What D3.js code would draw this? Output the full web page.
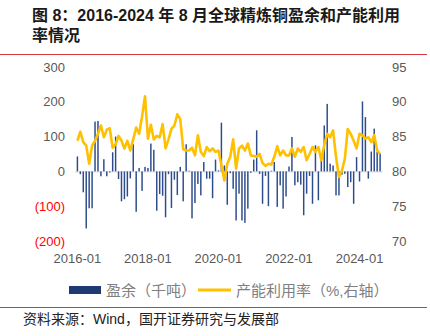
<!DOCTYPE html>
<html><head><meta charset="utf-8">
<script src="https://cdn.jsdelivr.net/npm/d3@7"></script>
<style>
html,body{margin:0;padding:0;background:#fff;}
svg{display:block;}
</style></head>
<body>
<svg id="c" width="430" height="336"></svg>
<script>
// Months 2016-01 .. 2024-08 (category axis)
const months = d3.utcMonths(new Date(Date.UTC(2016,0,1)), new Date(Date.UTC(2024,8,1))).map(d3.utcFormat("%Y-%m"));
const xTickLabels = ["2016-01","2018-01","2020-01","2022-01","2024-01"];
const leftTicks = [300,200,100,0,-100,-200];
const rightTicks = [95,90,85,80,75,70];
// 盈余（千吨）
const surplus = [43,-8,-60,-164,-106,-106,143,145,-14,35,-14,-3,55,100,-22,-86,-80,-72,-20,78,
  -116,10,-56,13,10,80,62,-113,-65,-70,-132,-8,-105,-24,-68,13,-86,78,2,-135,
  -91,-36,-69,27,-21,-21,-77,34,3,140,17,-96,-5,-50,-141,-64,-141,-148,-107,-4,
  34,118,-7,-93,-13,-100,2,27,-102,-40,-107,-72,14,99,-40,-31,-38,-126,-64,-13,
  -93,75,-83,32,132,194,22,17,-69,-69,-10,-7,-45,-31,-93,41,-29,201,156,-21,
  57,123,56,51];
// 产能利用率（%）
const utilization = [84.4,85.7,84.2,83.7,81.1,83.7,84.4,85.4,86.6,84.9,86.0,86.2,83.4,83.9,85.1,84.4,83.3,84.4,83.0,84.6,
  86.3,85.4,87.9,90.8,84.7,86.7,84.6,85.1,84.9,86.8,83.3,84.6,86.1,86.6,88.2,87.5,83.2,83.0,83.0,83.4,
  82.3,85.2,82.8,82.2,83.5,82.9,83.3,82.8,83.0,80.9,78.7,81.1,82.1,84.6,80.4,83.3,83.7,83.0,84.0,82.3,
  82.2,82.1,82.5,81.2,80.8,81.1,81.0,82.1,83.6,82.3,83.0,82.3,82.3,83.3,82.1,83.3,82.8,83.5,81.6,82.5,
  83.5,82.8,83.5,81.6,83.8,85.4,84.9,85.9,82.1,79.2,80.1,81.8,86.1,85.4,84.4,83.3,85.4,85.2,84.7,84.9,
  84.2,85.2,83.0,82.5];

const svg = d3.select("#c");
const CJK = "'Liberation Sans','Noto Sans CJK SC',sans-serif";

// Title
const title = svg.append("text").attr("font-family",CJK).attr("font-weight","bold")
  .attr("font-size",16).attr("fill","#1a1a1a");
title.append("tspan").attr("x",32).attr("y",21).text("图 8：2016-2024 年 8 月全球精炼铜盈余和产能利用");
title.append("tspan").attr("x",32).attr("y",41).text("率情况");
svg.append("line").attr("x1",0).attr("x2",427).attr("y1",54.5).attr("y2",54.5).attr("stroke","#d7373f").attr("stroke-width",1.2);

const x = d3.scaleBand().domain(months).range([75.2,382.3]).padding(0.5);
const yL = d3.scaleLinear().domain([-200,300]).range([241,67]);
const yR = d3.scaleLinear().domain([70,95]).range([241,67]);

// zero axis line
svg.append("line").attr("x1",75).attr("x2",383).attr("y1",yL(0)+0.5).attr("y2",yL(0)+0.5).attr("stroke","#d9d9d9").attr("stroke-width",1);

// bars
svg.append("g").selectAll("rect").data(surplus).join("rect")
  .attr("x",(d,i)=>x(months[i]))
  .attr("width",x.bandwidth())
  .attr("y",d=>yL(Math.max(0,d)))
  .attr("height",d=>Math.abs(yL(d)-yL(0)))
  .attr("fill","#2c4c8c");

// line
const line = d3.line().x((d,i)=>x(months[i])+x.bandwidth()/2).y(d=>yR(d));
svg.append("path").datum(utilization).attr("d",line).attr("fill","none")
  .attr("stroke","#FFC000").attr("stroke-width",2.6).attr("stroke-linejoin","round");

// left axis
const axL = d3.axisLeft(yL).tickValues(leftTicks).tickSize(0).tickPadding(0)
  .tickFormat(d=> d<0 ? "("+Math.abs(d)+")" : d);
const gL = svg.append("g").attr("transform","translate(65,0)").call(axL);
gL.select(".domain").remove();
gL.selectAll("text").attr("font-family","'Liberation Sans',sans-serif").attr("font-size",13)
  .attr("fill",d=>d<0?"#ff0000":"#595959");

// right axis
const axR = d3.axisRight(yR).tickValues(rightTicks).tickSize(0).tickPadding(0);
const gR = svg.append("g").attr("transform","translate(392,0)").call(axR);
gR.select(".domain").remove();
gR.selectAll("text").attr("font-family","'Liberation Sans',sans-serif").attr("font-size",13).attr("fill","#595959");

// bottom axis labels
const axB = d3.axisBottom(x).tickValues(xTickLabels).tickSize(0).tickPadding(0);
const gB = svg.append("g").attr("transform","translate(0,254)").call(axB);
gB.select(".domain").remove();
gB.selectAll("text").attr("font-family","'Liberation Sans',sans-serif").attr("font-size",13).attr("fill","#595959");

// legend
const lg = svg.append("g").attr("font-family",CJK).attr("font-size",15).attr("fill","#808080");
lg.append("rect").attr("x",69).attr("y",286).attr("width",32).attr("height",8).attr("fill","#1f3a73");
lg.append("text").attr("x",106).attr("y",295.5).text("盈余（千吨）");
lg.append("line").attr("x1",198).attr("x2",231).attr("y1",290).attr("y2",290).attr("stroke","#FFC000").attr("stroke-width",3);
lg.append("text").attr("x",236).attr("y",295.5).text("产能利用率（%,右轴）");

// bottom rule and source
svg.append("line").attr("x1",0).attr("x2",427).attr("y1",307.5).attr("y2",307.5).attr("stroke","#d7373f").attr("stroke-width",1.2);
svg.append("text").attr("x",23).attr("y",324).attr("font-family",CJK).attr("font-size",14).attr("fill","#222")
  .text("资料来源：Wind，国开证券研究与发展部");
</script>
</body></html>
